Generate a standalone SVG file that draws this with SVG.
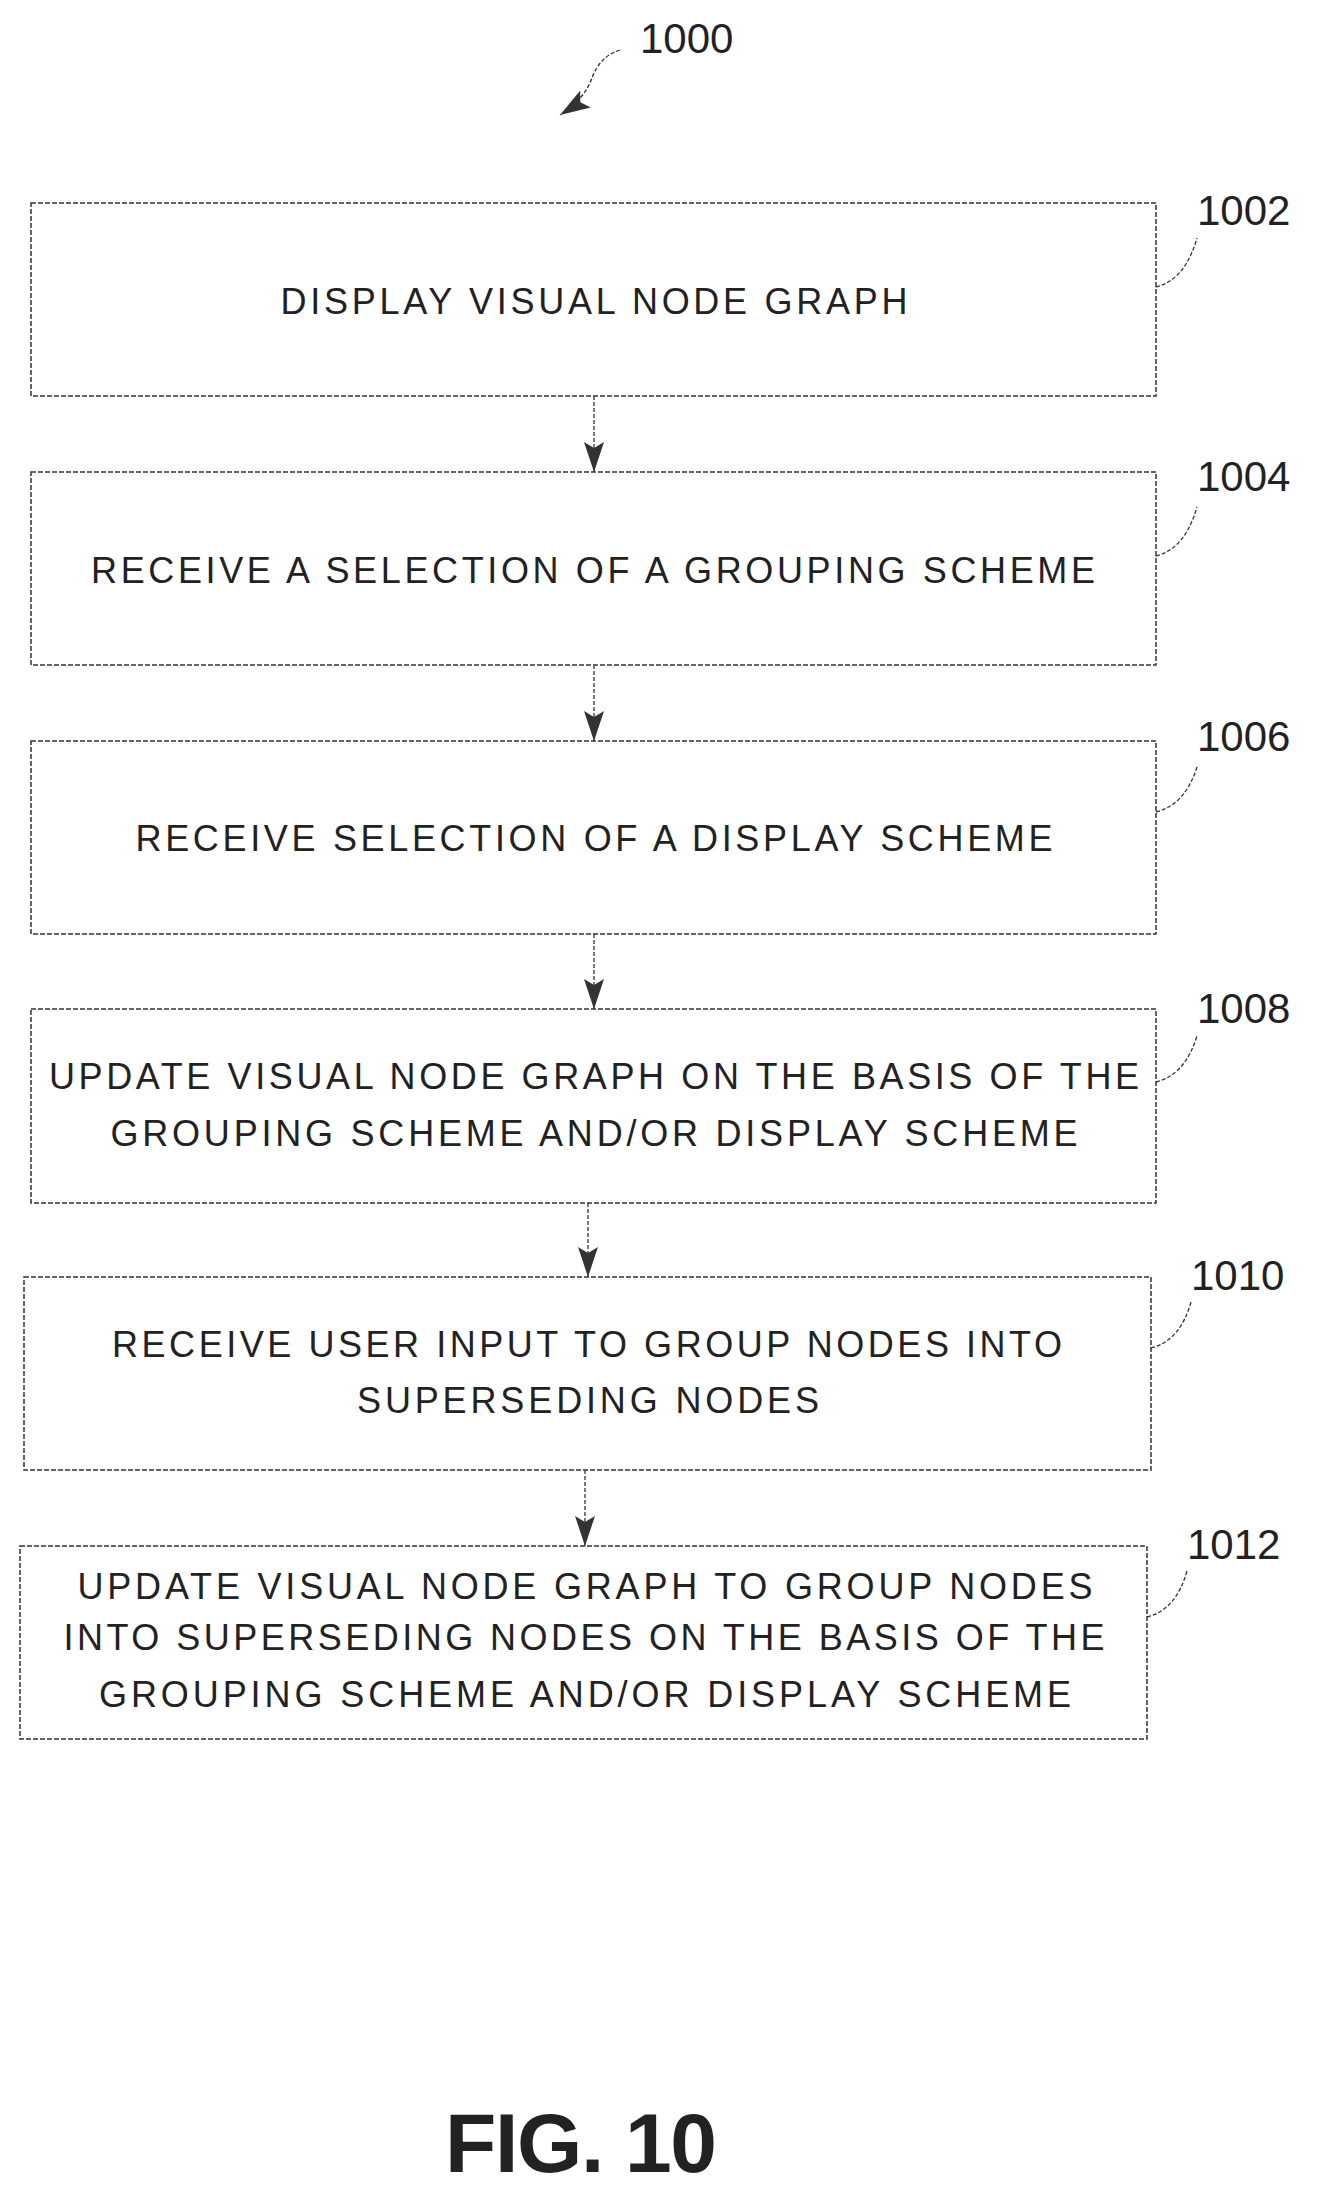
<svg xmlns="http://www.w3.org/2000/svg" width="1324" height="2187" viewBox="0 0 1324 2187">
<style>
.box{fill:#fff;stroke:#333;stroke-width:1.5;stroke-dasharray:5 2}
.t{font-family:"Liberation Sans",Arial,sans-serif;font-size:36px;fill:#222;text-anchor:middle}
.n{font-family:"Liberation Sans",Arial,sans-serif;font-size:42px;fill:#222}
.ld{fill:none;stroke:#333;stroke-width:1.3;stroke-dasharray:4 2}
</style>
<defs><marker id="ah" markerWidth="30" markerHeight="20" refX="30" refY="10" orient="auto" markerUnits="userSpaceOnUse" viewBox="0 0 30 20"><path d="M0,0 L30,10 L0,20 L6,10 Z" fill="#333"/></marker></defs>
<rect width="1324" height="2187" fill="#fff"/>
<g id="title"><text class="n" x="640" y="53">1000</text><path class="ld" d="M620,50 Q600,56 592,78 T560,115" marker-end="url(#ah)"/></g>
<g id="connectors">
<line class="ld" x1="594" y1="396" x2="594" y2="472" marker-end="url(#ah)"/>
<line class="ld" x1="594" y1="665" x2="594" y2="741" marker-end="url(#ah)"/>
<line class="ld" x1="594" y1="934" x2="594" y2="1009" marker-end="url(#ah)"/>
<line class="ld" x1="588" y1="1203" x2="588" y2="1277" marker-end="url(#ah)"/>
<line class="ld" x1="585" y1="1470" x2="585" y2="1546" marker-end="url(#ah)"/>
</g>
<g id="n1002"><rect class="box" x="31" y="203" width="1125" height="193"/><text class="t" x="594" y="314" textLength="627">DISPLAY VISUAL NODE GRAPH</text><text class="n" x="1197" y="225">1002</text><path class="ld" d="M1156,287 Q1185,280 1197,238"/></g>
<g id="n1004"><rect class="box" x="31" y="472" width="1125" height="193"/><text class="t" x="593" y="583" textLength="1004">RECEIVE A SELECTION OF A GROUPING SCHEME</text><text class="n" x="1197" y="491">1004</text><path class="ld" d="M1156,556 Q1185,549 1197,507"/></g>
<g id="n1006"><rect class="box" x="31" y="741" width="1125" height="193"/><text class="t" x="594" y="851" textLength="917">RECEIVE SELECTION OF A DISPLAY SCHEME</text><text class="n" x="1197" y="751">1006</text><path class="ld" d="M1156,812 Q1185,805 1197,767"/></g>
<g id="n1008"><rect class="box" x="31" y="1009" width="1125" height="194"/><text class="t" x="594" y="1089" textLength="1090">UPDATE VISUAL NODE GRAPH ON THE BASIS OF THE</text><text class="t" x="594" y="1146" textLength="967">GROUPING SCHEME AND/OR DISPLAY SCHEME</text><text class="n" x="1197" y="1023">1008</text><path class="ld" d="M1156,1082 Q1185,1075 1197,1036"/></g>
<g id="n1010"><rect class="box" x="24" y="1277" width="1127" height="193"/><text class="t" x="587" y="1357" textLength="950">RECEIVE USER INPUT TO GROUP NODES INTO</text><text class="t" x="588" y="1413" textLength="462">SUPERSEDING NODES</text><text class="n" x="1191" y="1290">1010</text><path class="ld" d="M1151,1348 Q1180,1341 1191,1302"/></g>
<g id="n1012"><rect class="box" x="20" y="1546" width="1127" height="193"/><text class="t" x="585" y="1599" textLength="1015">UPDATE VISUAL NODE GRAPH TO GROUP NODES</text><text class="t" x="584" y="1650" textLength="1041">INTO SUPERSEDING NODES ON THE BASIS OF THE</text><text class="t" x="585" y="1707" textLength="972">GROUPING SCHEME AND/OR DISPLAY SCHEME</text><text class="n" x="1187" y="1559">1012</text><path class="ld" d="M1147,1617 Q1176,1610 1187,1571"/></g>
<g id="fig"><text x="581" y="2172" text-anchor="middle" font-family="Liberation Sans,Arial,sans-serif" font-weight="bold" font-size="84" fill="#222" textLength="272">FIG. 10</text></g>
</svg>
